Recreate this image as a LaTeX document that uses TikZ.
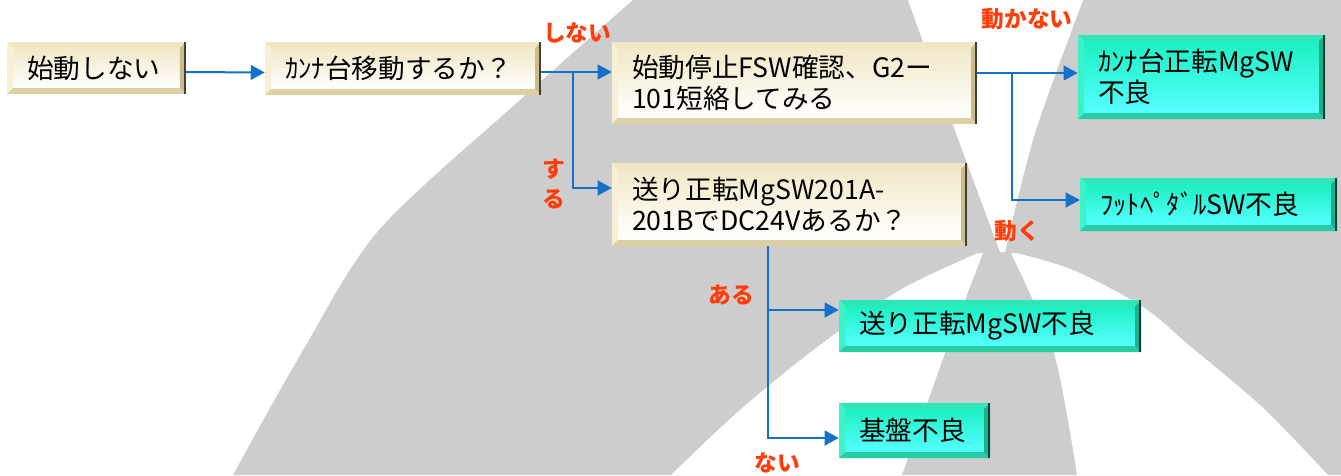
\documentclass[tikz,border=0pt]{standalone}
\usepackage{fontspec}
\setmainfont{Noto Sans CJK JP}
\usetikzlibrary{arrows.meta,positioning}

\definecolor{linkblue}{HTML}{1470C8}
\definecolor{anscol}{HTML}{FF3D0A}
\definecolor{wmgray}{HTML}{CDCDCD}
% cream buttons
\definecolor{crT}{HTML}{F0E6C1}
\definecolor{crL}{HTML}{F7F0D6}
\definecolor{crB}{HTML}{DDD0A5}
\definecolor{crR}{HTML}{C9BC8E}
\definecolor{crF}{HTML}{F2E9C8}
% green buttons
\definecolor{grT}{HTML}{2EE6B8}
\definecolor{grL}{HTML}{3CF2C8}
\definecolor{grB}{HTML}{26CCA4}
\definecolor{grR}{HTML}{1DB08B}
\definecolor{grF}{HTML}{1CF0C2}
\definecolor{grG}{HTML}{55FFFF}

\newcommand{\bvl}{4.5pt}
\tikzset{
  bevel/.style n args={6}{rectangle, inner xsep=15pt, inner ysep=0pt, align=left,
    font=\fontsize{20pt}{23pt}\selectfont,
    path picture={
      \coordinate (bsw) at (path picture bounding box.south west);
      \coordinate (bne) at (path picture bounding box.north east);
      \coordinate (bnw) at (bsw |- bne);
      \coordinate (bse) at (bne |- bsw);
      \coordinate (isw) at ([shift={(\bvl,\bvl)}]bsw);
      \coordinate (ine) at ([shift={(-\bvl,-\bvl)}]bne);
      \coordinate (inw) at ([shift={(\bvl,-\bvl)}]bnw);
      \coordinate (ise) at ([shift={(-\bvl,\bvl)}]bse);
      \shade[top color=#5, bottom color=#6] (isw) rectangle (ine);
      \fill[#1] (bnw) -- (bne) -- (ine) -- (inw) -- cycle;
      \fill[#2] (bnw) -- (inw) -- (isw) -- (bsw) -- cycle;
      \fill[#3] (bsw) -- (isw) -- (ise) -- (bse) -- cycle;
      \fill[#4] (bse) -- (ise) -- (ine) -- (bne) -- cycle;
      \draw[#4!35!black, line width=1.5pt] ([xshift=-0.75pt]bne) -- ([xshift=-0.75pt]bse);
    }},
  creambox/.style={bevel={crT}{crL}{crB}{crR}{crF}{white}},
  greenbox/.style={bevel={grT}{grL}{grB}{grR}{grF}{grG}},
  answer/.style={text=anscol, font=\fontsize{17pt}{22.5pt}\selectfont\bfseries, align=center},
  link/.style={draw=linkblue, line width=1.5pt, -{Triangle[length=10.5pt,width=11pt]}},
}

\begin{document}
\begin{tikzpicture}[x=0.75pt,y=-0.75pt]
  \useasboundingbox (0,0) rectangle (1341,475);
  \fill[white] (0,0) rectangle (1341,475);

  % watermark behind the chart
  \fill[wmgray] plot[smooth] coordinates {(633,0) (520,100) (379,230) (302,352) (233,475)}
    -- (1341,475) -- (1341,0) -- cycle;
  \fill[white] plot[smooth] coordinates {(908,0) (956,133) (1000,252)}
    -- plot[smooth] coordinates {(1005,252) (1035,133) (1083,0)} -- cycle;
  \fill[white] plot[smooth] coordinates {(978,253) (900,290) (820,345) (740,410) (671,475)}
    -- plot[smooth] coordinates {(902,475) (945,353) (983,253)} -- cycle;
  \fill[white] plot[smooth] coordinates {(1011,253) (1054,353) (1077,475)}
    -- plot[smooth] coordinates {(1328,475) (1262,407) (1191,347) (1143,307) (1073,270) (1016,253)} -- cycle;

  % question boxes
  \node[creambox, text width=104pt, minimum height=39pt] (b1) at (96.5,68) {始動しない};
  \node[creambox, text width=177pt, minimum height=39.75pt] (b2) at (403,68.5) {ｶﾝﾅ台移動するか？};
  \node[creambox, text width=243.75pt, minimum height=61.5pt] (b3) at (794.5,83)
    {始動停止FSW確認、G2ー\\101短絡してみる};
  \node[creambox, text width=236.25pt, minimum height=62.25pt] (b4) at (789.5,204.5)
    {送り正転MgSW201A-\\201BでDC24Vあるか？};

  % results
  \node[greenbox, text width=155.25pt, minimum height=63pt] (b5) at (1201.5,77) {ｶﾝﾅ台正転MgSW\\不良};
  \node[greenbox, text width=162.75pt, minimum height=39.75pt] (b6) at (1208.5,204.5) {ﾌｯﾄﾍﾟﾀﾞﾙSW不良};
  \node[greenbox, text width=196.5pt, minimum height=39pt] (b7) at (990,326) {送り正転MgSW不良};
  \node[greenbox, text width=83.25pt, minimum height=41.25pt] (b8) at (914.5,430.5) {基盤不良};

  % branch points
  \coordinate (j1) at (573,72);
  \coordinate (k1) at (573,188);
  \coordinate (j2) at (1012,73);
  \coordinate (k2) at (1012,200);
  \coordinate (k3) at (768,310);
  \coordinate (k4) at (768,438);

  % connectors
  \draw[link] ([yshift=-3pt]b1.east) -- ([yshift=-3pt]b2.west);
  \draw[link] (b2.east |- j1) -- (j1 -| b3.west);
  \draw[link] (j1) -- (k1) -- (k1 -| b4.west);
  \draw[link] (b3.east |- j2) -- (j2 -| b5.west);
  \draw[link] (j2) -- (k2) -- (k2 -| b6.west);
  \draw[link] (b4.south -| k3) -- (k4) -- (k4 -| b8.west);
  \draw[link] (k3) -- (k3 -| b7.west);

  % answers
  \node[answer] (a1) at (577,33) {しない};
  \node[answer] (a2) at (554,184) {す\\る};
  \node[answer] (a3) at (1027,19) {動かない};
  \node[answer] (a4) at (1017,231) {動く};
  \node[answer] (a5) at (731,295) {ある};
  \node[answer] (a6) at (777,463) {ない};
\end{tikzpicture}
\end{document}
